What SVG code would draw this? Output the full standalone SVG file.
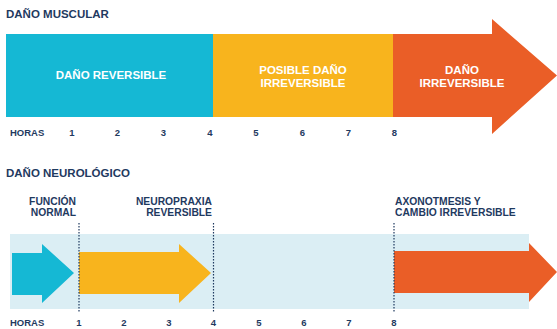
<svg xmlns="http://www.w3.org/2000/svg" width="557" height="329" viewBox="0 0 557 329">
<style>
text{font-family:"Liberation Sans",Arial,sans-serif;font-weight:bold}
.title{font-size:11.5px;fill:#1f3a5f}
.w{font-size:11.5px;fill:#fff;text-anchor:middle}
.h{font-size:9.5px;fill:#1f3a5f}
.n{font-size:9.5px;fill:#1f3a5f;text-anchor:middle}
.lab{font-size:10.3px;fill:#1f3a5f}
.dot{stroke:#1f3a5f;stroke-width:1.2;stroke-dasharray:1.5 1.5}
</style>
<rect width="557" height="329" fill="#fff"/>
<text class="title" x="6" y="18">DAÑO MUSCULAR</text>
<g id="muscular-bar">
<rect x="6" y="34" width="207" height="83" fill="#15b8d4"/>
<rect x="213" y="34" width="180" height="83" fill="#f8b41d"/>
<polygon points="393,34 492,34 492,19 557,75.5 492,134 492,117 393,117" fill="#ea5e27"/>
</g>
<g id="m-reversible"><text class="w" x="111" y="79">DAÑO REVERSIBLE</text></g>
<g id="m-posible"><text class="w" x="303" y="74">POSIBLE DAÑO</text><text class="w" x="303" y="87">IRREVERSIBLE</text></g>
<g id="m-irreversible"><text class="w" x="462" y="74">DAÑO</text><text class="w" x="462" y="87">IRREVERSIBLE</text></g>
<g id="horas-top">
<text class="h" x="10" y="136">HORAS</text>
<text class="n" x="72" y="136">1</text><text class="n" x="117.5" y="136">2</text><text class="n" x="163.5" y="136">3</text><text class="n" x="210" y="136">4</text>
<text class="n" x="256" y="136">5</text><text class="n" x="302.5" y="136">6</text><text class="n" x="348.5" y="136">7</text><text class="n" x="394.5" y="136">8</text>
</g>
<text class="title" x="6" y="177">DAÑO NEUROLÓGICO</text>
<rect x="10" y="234" width="519" height="75" fill="#dbeef4"/>
<g id="n-normal">
<polygon points="12,253 42,253 42,244 74,273 42,303 42,295 12,295" fill="#15b8d4"/>
<text class="lab" x="76" y="205" text-anchor="end">FUNCIÓN</text><text class="lab" x="76" y="216" text-anchor="end">NORMAL</text>
</g>
<g id="n-neuropraxia">
<polygon points="79,252 179,252 179,244 211,273 179,303 179,294 79,294" fill="#f8b41d"/>
<text class="lab" x="212" y="205" text-anchor="end">NEUROPRAXIA</text><text class="lab" x="212" y="216" text-anchor="end">REVERSIBLE</text>
</g>
<g id="n-axonotmesis">
<polygon points="394,251 529,251 529,243 557,272 529,302 529,293 394,293" fill="#ea5e27"/>
<text class="lab" x="395" y="205">AXONOTMESIS Y</text><text class="lab" x="395" y="216">CAMBIO IRREVERSIBLE</text>
</g>
<g id="connectors">
<line class="dot" x1="79" y1="223" x2="79" y2="312"/>
<line class="dot" x1="213.5" y1="223" x2="213.5" y2="312"/>
<line class="dot" x1="394" y1="223" x2="394" y2="312"/>
</g>
<g id="horas-bottom">
<text class="h" x="10" y="326">HORAS</text>
<text class="n" x="79" y="326">1</text><text class="n" x="124" y="326">2</text><text class="n" x="169" y="326">3</text><text class="n" x="213.5" y="326">4</text>
<text class="n" x="259" y="326">5</text><text class="n" x="304" y="326">6</text><text class="n" x="349" y="326">7</text><text class="n" x="394" y="326">8</text>
</g>
</svg>
